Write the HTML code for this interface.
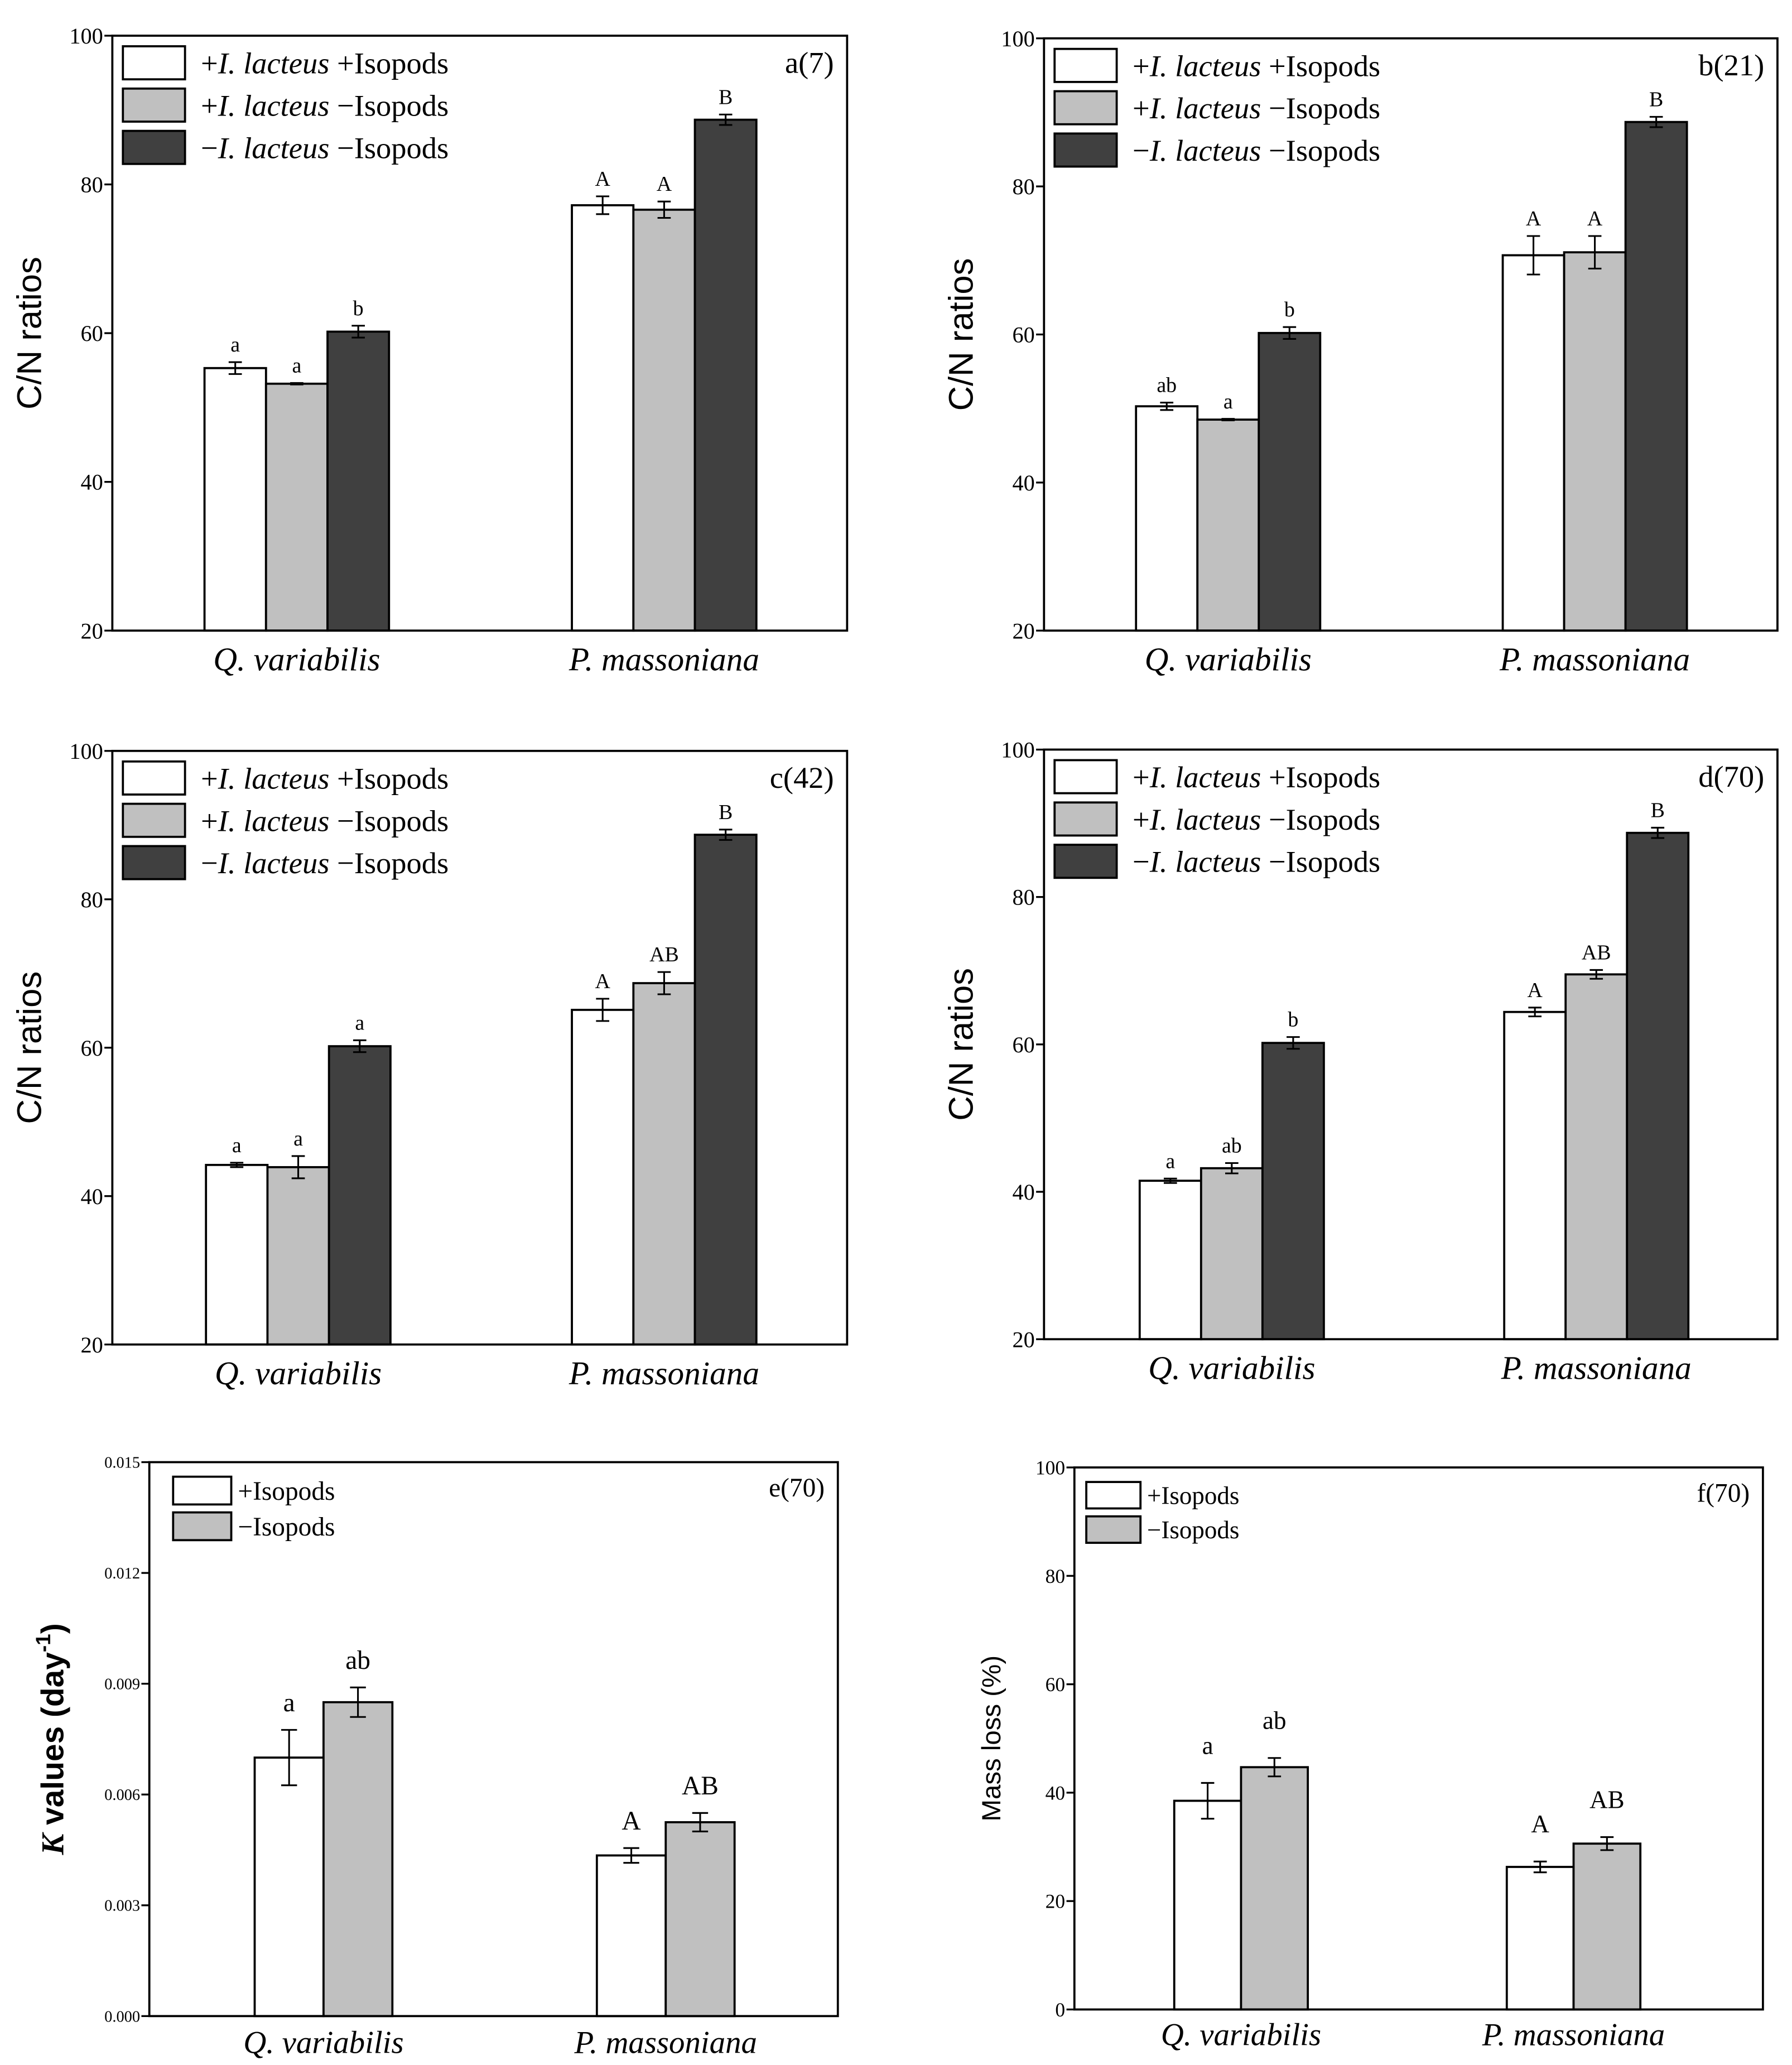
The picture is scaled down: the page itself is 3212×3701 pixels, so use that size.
<!DOCTYPE html>
<html><head><meta charset="utf-8">
<style>
html,body{margin:0;padding:0;background:#fff;}
svg{display:block;}
text{font-family:"Liberation Serif",serif;fill:#000;}
.sans{font-family:"Liberation Sans",sans-serif;}
</style></head>
<body>
<svg id="fig" xmlns="http://www.w3.org/2000/svg" width="3212" height="3701" viewBox="0 0 1356 1562" preserveAspectRatio="none"></svg>
<script>
// ---- data ----
const categories = ["Q. variabilis", "P. massoniana"];
const cnTicks = [20, 40, 60, 80, 100];
const kTicks = [0, 0.003, 0.006, 0.009, 0.012, 0.015];
const kTickLabels = ["0.000", "0.003", "0.006", "0.009", "0.012", "0.015"];
const massTicks = [0, 20, 40, 60, 80, 100];
const seriesCN = ["+I. lacteus +Isopods", "+I. lacteus \u2212Isopods", "\u2212I. lacteus \u2212Isopods"];
const seriesIso = ["+Isopods", "\u2212Isopods"];

const aVals = [[55.3, 53.2, 60.2], [77.2, 76.6, 88.7]];
const aErr = [[0.8, 0.1, 0.8], [1.2, 1.1, 0.7]];
const aLetters = [["a", "a", "b"], ["A", "A", "B"]];

const bVals = [[50.3, 48.5, 60.2], [70.7, 71.1, 88.7]];
const bErr = [[0.5, 0.1, 0.8], [2.6, 2.2, 0.7]];
const bLetters = [["ab", "a", "b"], ["A", "A", "B"]];

const cVals = [[44.2, 43.9, 60.2], [65.1, 68.7, 88.7]];
const cErr = [[0.3, 1.5, 0.8], [1.5, 1.5, 0.7]];
const cLetters = [["a", "a", "a"], ["A", "AB", "B"]];

const dVals = [[41.5, 43.2, 60.2], [64.4, 69.5, 88.7]];
const dErr = [[0.3, 0.7, 0.8], [0.6, 0.6, 0.7]];
const dLetters = [["a", "ab", "b"], ["A", "AB", "B"]];

const eVals = [[0.0070, 0.0085], [0.00435, 0.00525]];
const eErr = [[0.00075, 0.0004], [0.0002, 0.00025]];
const eLetters = [["a", "ab"], ["A", "AB"]];

const fVals = [[38.5, 44.7], [26.3, 30.6]];
const fErr = [[3.3, 1.7], [1.0, 1.2]];
const fLetters = [["a", "ab"], ["A", "AB"]];

const fills3 = ["#ffffff", "#c0c0c0", "#404040"];
const fills2 = ["#ffffff", "#c0c0c0"];

const NS = "http://www.w3.org/2000/svg";
const svg = document.getElementById("fig");
function mk(tag, attrs, parent, txt) {
  const e = document.createElementNS(NS, tag);
  for (const k in attrs) e.setAttribute(k, attrs[k]);
  if (txt !== undefined) e.textContent = txt;
  (parent || svg).appendChild(e);
  return e;
}

function legendText(parent, x, y, label, size) {
  const t = mk("text", {x: x, y: y, "font-size": size}, parent);
  const m = label.match(/^([+\u2212])I\. lacteus (.*)$/);
  if (m) {
    mk("tspan", {}, t, m[1]);
    mk("tspan", {"font-style": "italic"}, t, "I. lacteus");
    mk("tspan", {}, t, " " + m[2]);
  } else t.textContent = label;
  return t;
}

function panel(p) {
  const g = mk("g", {});
  
  
  const W = p.x1 - p.x0, H = p.y1 - p.y0;
  const ys = v => p.y1 - (v - p.ymin) / (p.ymax - p.ymin) * H;
  const xs = f => p.x0 + f * W;
  const nS = p.vals[0].length;
  const bw = p.bw * W;
  p.vals.forEach((grp, gi) => {
    const cx = xs(p.centers[gi]);
    grp.forEach((v, si) => {
      const bx = cx - nS * bw / 2 + si * bw;
      const r = mk("rect", {x: bx, y: ys(v), width: bw, height: ys(p.ymin) - ys(v), fill: p.fills[si], stroke: "#000", "stroke-width": 1.6}, g);
      
      
      const mx = bx + bw / 2, e = p.err[gi][si];
      const top = ys(v + e), bot = ys(v - e), cap = p.cap;
      const eb = mk("path", {d: `M${mx},${top}V${bot}M${mx - cap},${top}H${mx + cap}M${mx - cap},${bot}H${mx + cap}`, stroke: "#000", "stroke-width": 1.3, fill: "none"}, g);
      
      
      const lt = mk("text", {x: mx, y: top - p.lgap, "font-size": p.lsize, "text-anchor": "middle"}, g, p.letters[gi][si]);
      
      
    });
    const cl = mk("text", {x: cx, y: p.y1 + p.xlabOff, "font-size": p.xsize, "font-style": "italic", "text-anchor": "middle"}, g, categories[gi]);
    
    
  });
  const fr = mk("rect", {x: p.x0, y: p.y0, width: W, height: H, fill: "none", stroke: "#000", "stroke-width": 1.6}, g);
  
  
  p.ticks.forEach((t, i) => {
    const y = ys(t);
    mk("line", {x1: p.x0 - 6, x2: p.x0, y1: y, y2: y, stroke: "#000", "stroke-width": 1.4}, g);
    const tl = mk("text", {x: p.x0 - 7, y: y + p.tsize * 0.35, "font-size": p.tsize, "text-anchor": "end"}, g, p.tickLabels ? p.tickLabels[i] : String(t));
    
    
  });
  const yt = mk("text", {x: 0, y: 0, "font-size": p.ytsize, "text-anchor": "middle", class: "sans", transform: `translate(${p.ytx},${(p.y0 + p.y1) / 2}) rotate(-90)`, "font-weight": p.ytbold ? "bold" : "normal"}, g);
  if (p.ytitle === "K") {
    mk("tspan", {"font-style": "italic", "font-family": "Liberation Serif, serif"}, yt, "K");
    mk("tspan", {}, yt, " values (day");
    mk("tspan", {dy: -10, "font-size": p.ytsize * 0.65}, yt, "-1");
    mk("tspan", {dy: 10}, yt, ")");
  } else yt.textContent = p.ytitle;
  
  
  const pl = mk("text", {x: p.x1 - 10, y: p.y0 + p.plOff, "font-size": p.plsize, "text-anchor": "end"}, g, p.label);
  
  
  p.series.forEach((s, i) => {
    const ly = p.y0 + p.legTop + i * p.legStep;
    const lb = mk("rect", {x: p.x0 + p.legX, y: ly, width: p.legW, height: p.legH, fill: p.fills[i], stroke: "#000", "stroke-width": 1.6}, g);
    
    
    const tx = legendText(g, p.x0 + p.legX + p.legW + p.legGap, ly + p.legH / 2 + p.lgsize * 0.35, s, p.lgsize);
    
    
  });
}

const cnBase = {ymin: 20, ymax: 100, ticks: cnTicks, series: seriesCN, fills: fills3, centers: [0.251, 0.751], bw: 0.0837,
  cap: 5, lgap: 8, lsize: 16, xsize: 25, xlabOff: 30, tsize: 17, ytitle: "C/N ratios", ytsize: 26, ytbold: false,
  lgsize: 23, plsize: 23, plOff: 28, legX: 8, legW: 47, legH: 25, legStep: 32, legTop: 8, legGap: 12};

panel(Object.assign({}, cnBase, {name: "panel-a", x0: 85, x1: 641, y0: 27, y1: 477, ytx: 31, vals: aVals, err: aErr, letters: aLetters, label: "a(7)"}));
panel(Object.assign({}, cnBase, {name: "panel-b", x0: 790, x1: 1345, y0: 29, y1: 477, ytx: 736, vals: bVals, err: bErr, letters: bLetters, label: "b(21)"}));
panel(Object.assign({}, cnBase, {name: "panel-c", x0: 85, x1: 641, y0: 568, y1: 1017, ytx: 31, centers: [0.253, 0.751], vals: cVals, err: cErr, letters: cLetters, label: "c(42)"}));
panel(Object.assign({}, cnBase, {name: "panel-d", x0: 790, x1: 1345, y0: 567, y1: 1013, ytx: 736, centers: [0.256, 0.753], vals: dVals, err: dErr, letters: dLetters, label: "d(70)"}));

panel({name: "panel-e", x0: 113, x1: 634, y0: 1106, y1: 1525, ymin: 0, ymax: 0.015, ticks: kTicks, tickLabels: kTickLabels,
  series: seriesIso, fills: fills2, centers: [0.253, 0.75], bw: 0.1, vals: eVals, err: eErr, letters: eLetters,
  cap: 6, lgap: 14, lsize: 20, xsize: 24, xlabOff: 28, tsize: 12, ytitle: "K", ytsize: 24, ytbold: true, ytx: 48,
  lgsize: 20, plsize: 20, plOff: 26, legX: 18, legW: 44, legH: 21, legStep: 27, legTop: 11, legGap: 5, label: "e(70)"});

panel({name: "panel-f", x0: 813, x1: 1334, y0: 1110, y1: 1520, ymin: 0, ymax: 100, ticks: massTicks,
  series: seriesIso, fills: fills2, centers: [0.242, 0.725], bw: 0.097, vals: fVals, err: fErr, letters: fLetters,
  cap: 5, lgap: 22, lsize: 19, xsize: 24, xlabOff: 27, tsize: 15, ytitle: "Mass loss (%)", ytsize: 20, ytbold: false, ytx: 757,
  lgsize: 19, plsize: 20, plOff: 26, legX: 9, legW: 41, legH: 20, legStep: 26, legTop: 11, legGap: 5, label: "f(70)"});
</script>
</body></html>
